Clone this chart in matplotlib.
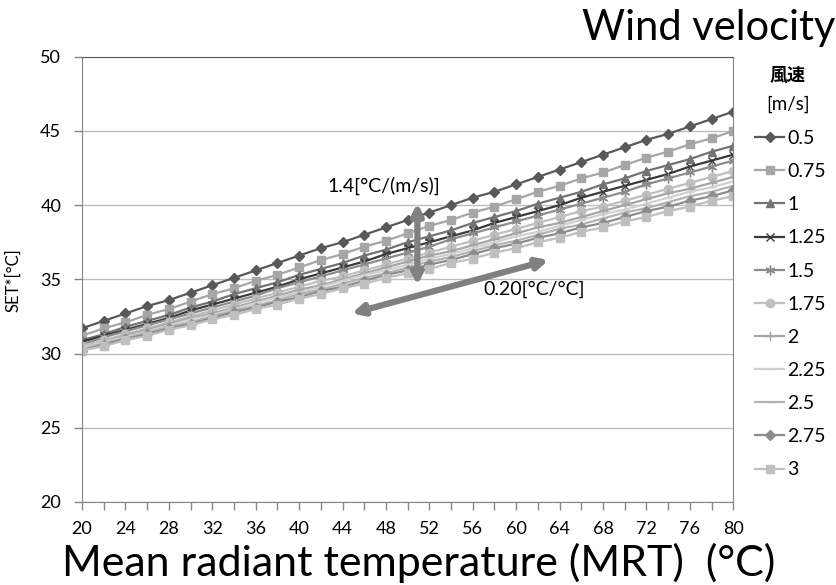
import numpy as np
import matplotlib.pyplot as plt
import matplotlib as mpl

mpl.rcParams['font.family'] = ['Lato', 'Noto Sans CJK JP', 'DejaVu Sans']

# Mean radiant temperature (deg C), one point every 2 degrees
mrt = list(range(20, 81, 2))

# SET* (deg C) for each wind velocity (m/s)
set_v050 = [31.7, 32.2, 32.7, 33.2, 33.6, 34.1, 34.6, 35.1, 35.6, 36.1, 36.6,
            37.1, 37.5, 38.0, 38.5, 39.0, 39.5, 40.0, 40.5, 40.9, 41.4,
            41.9, 42.4, 42.9, 43.4, 43.9, 44.4, 44.8, 45.3, 45.8, 46.3]
set_v075 = [31.2, 31.7, 32.1, 32.6, 33.0, 33.5, 34.0, 34.4, 34.9, 35.3, 35.8,
            36.3, 36.7, 37.2, 37.6, 38.1, 38.6, 39.0, 39.5, 39.9, 40.4,
            40.9, 41.3, 41.8, 42.2, 42.7, 43.2, 43.6, 44.1, 44.5, 45.0]
set_v100 = [30.9, 31.3, 31.8, 32.2, 32.6, 33.1, 33.5, 34.0, 34.4, 34.8, 35.3,
            35.7, 36.1, 36.6, 37.0, 37.5, 37.9, 38.3, 38.8, 39.2, 39.6,
            40.1, 40.5, 40.9, 41.4, 41.8, 42.3, 42.7, 43.1, 43.6, 44.0]
set_v125 = [30.8, 31.2, 31.6, 32.0, 32.4, 32.9, 33.3, 33.7, 34.1, 34.5, 35.0,
            35.4, 35.8, 36.2, 36.7, 37.1, 37.5, 37.9, 38.3, 38.8, 39.2,
            39.6, 40.0, 40.5, 40.9, 41.3, 41.7, 42.1, 42.6, 43.0, 43.4]
set_v150 = [30.6, 31.1, 31.5, 31.9, 32.3, 32.7, 33.1, 33.5, 33.9, 34.4, 34.8,
            35.2, 35.6, 36.0, 36.4, 36.8, 37.2, 37.7, 38.1, 38.5, 38.9,
            39.3, 39.7, 40.1, 40.5, 40.9, 41.4, 41.8, 42.2, 42.6, 43.0]
set_v175 = [30.5, 30.9, 31.3, 31.7, 32.1, 32.5, 32.9, 33.3, 33.7, 34.1, 34.5,
            34.9, 35.2, 35.6, 36.0, 36.4, 36.8, 37.2, 37.6, 38.0, 38.4,
            38.8, 39.2, 39.6, 39.9, 40.3, 40.7, 41.1, 41.5, 41.9, 42.3]
set_v200 = [30.4, 30.8, 31.2, 31.6, 32.0, 32.4, 32.7, 33.1, 33.5, 33.9, 34.3,
            34.6, 35.0, 35.4, 35.8, 36.2, 36.6, 36.9, 37.3, 37.7, 38.1,
            38.5, 38.8, 39.2, 39.6, 40.0, 40.4, 40.8, 41.1, 41.5, 41.9]
set_v225 = [30.4, 30.8, 31.1, 31.5, 31.9, 32.3, 32.6, 33.0, 33.4, 33.8, 34.1,
            34.5, 34.9, 35.3, 35.6, 36.0, 36.4, 36.7, 37.1, 37.5, 37.9,
            38.2, 38.6, 39.0, 39.4, 39.7, 40.1, 40.5, 40.9, 41.2, 41.6]
set_v250 = [30.3, 30.7, 31.0, 31.4, 31.8, 32.1, 32.5, 32.9, 33.2, 33.6, 34.0,
            34.3, 34.7, 35.1, 35.4, 35.8, 36.2, 36.5, 36.9, 37.3, 37.6,
            38.0, 38.4, 38.7, 39.1, 39.5, 39.8, 40.2, 40.6, 40.9, 41.3]
set_v275 = [30.2, 30.6, 31.0, 31.3, 31.7, 32.0, 32.4, 32.8, 33.1, 33.5, 33.8,
            34.2, 34.5, 34.9, 35.3, 35.6, 36.0, 36.3, 36.7, 37.1, 37.4,
            37.8, 38.1, 38.5, 38.8, 39.2, 39.6, 39.9, 40.3, 40.6, 41.0]
set_v300 = [30.2, 30.5, 30.9, 31.2, 31.6, 31.9, 32.3, 32.6, 33.0, 33.3, 33.7,
            34.0, 34.4, 34.7, 35.1, 35.4, 35.7, 36.1, 36.4, 36.8, 37.1,
            37.5, 37.8, 38.2, 38.5, 38.9, 39.2, 39.6, 39.9, 40.3, 40.6]

velocity_labels = ['0.5', '0.75', '1', '1.25', '1.5', '1.75',
                   '2', '2.25', '2.5', '2.75', '3']
series = [set_v050, set_v075, set_v100, set_v125, set_v150, set_v175,
          set_v200, set_v225, set_v250, set_v275, set_v300]

# (line colour, marker, marker size, marker face colour)
styles = [
    ('#595959', 'D', 5, '#595959'),
    ('#A6A6A6', 's', 6, '#A6A6A6'),
    ('#737373', '^', 6, '#737373'),
    ('#3A3A3A', 'x', 6, '#3A3A3A'),
    ('#8C8C8C', (6, 2, 0), 7, '#8C8C8C'),
    ('#BFBFBF', 'o', 6, '#BFBFBF'),
    ('#A6A6A6', '+', 7, '#A6A6A6'),
    ('#D0D0D0', '_', 6, '#D0D0D0'),
    ('#B3B3B3', '_', 6, '#B3B3B3'),
    ('#8C8C8C', 'D', 5, '#8C8C8C'),
    ('#BFBFBF', 's', 6, '#BFBFBF'),
]

fig = plt.figure(figsize=(8.37, 5.85), dpi=100)
ax = fig.add_axes([0.098, 0.142, 0.778, 0.761])

for vals, lab, (col, mk, ms, fc) in zip(series, velocity_labels, styles):
    ax.plot(mrt, vals, color=col, lw=1.6, marker=mk, markersize=ms,
            markerfacecolor=fc, markeredgecolor=col, markeredgewidth=1.0,
            label=lab)

ax.set_xlim(20, 80)
ax.set_ylim(20, 50)
ax.set_yticks(np.arange(20, 51, 5))
ax.set_xticks(mrt)
ax.set_xticklabels([str(m) if (m - 20) % 4 == 0 else '' for m in mrt])
ax.tick_params(axis='both', labelsize=13, length=6, width=1,
               color='#868686', direction='out')
ax.tick_params(axis='x', pad=8)
ax.tick_params(axis='y', pad=9)

# Grid Lines
ax.yaxis.grid(True, color='#BDBDBD', linewidth=1.0)
ax.set_axisbelow(True)
for side in ['left', 'bottom', 'right', 'top']:
    ax.spines[side].set_color('#868686')
ax.spines['top'].set_color('#5A5A5A')

fig.text(0.016, 0.521, 'SET*[°C]', fontsize=12, rotation=90,
         ha='center', va='center')

# Annotation arrows
arrow_kw = dict(arrowstyle='<|-|>', color='#808080', lw=4.5,
                mutation_scale=16, shrinkA=0, shrinkB=0)
ax.annotate('', xy=(50.9, 40.15), xytext=(50.9, 34.6), arrowprops=arrow_kw)
ax.annotate('', xy=(44.85, 32.7), xytext=(63.0, 36.3), arrowprops=arrow_kw)
ax.text(42.6, 41.3, '1.4[°C/(m/s)]', fontsize=14, ha='left', va='center')
ax.text(57.0, 34.3, '0.20[°C/°C]', fontsize=14, ha='left', va='center')

# Legend with a two line heading above it
fig.text(0.941, 1 - 75 / 585, '風速', fontsize=13, fontweight='bold',
         ha='center', va='center')
fig.text(0.941, 1 - 104 / 585, '[m/s]', fontsize=13.5,
         ha='center', va='center')
leg = fig.legend(loc='upper left', bbox_to_anchor=(0.902, 1 - 130 / 585),
                 fontsize=14, frameon=False, handlelength=1.5,
                 handletextpad=0.15, labelspacing=0.83, borderaxespad=0,
                 borderpad=0)

fig.text(0.998, 0.952, 'Wind velocity', fontsize=30, ha='right', va='center')
fig.text(0.50, 0.004, 'Mean radiant temperature (MRT)  (°C)', fontsize=31,
         ha='center', va='bottom')

fig.savefig('out.png', dpi=100)
